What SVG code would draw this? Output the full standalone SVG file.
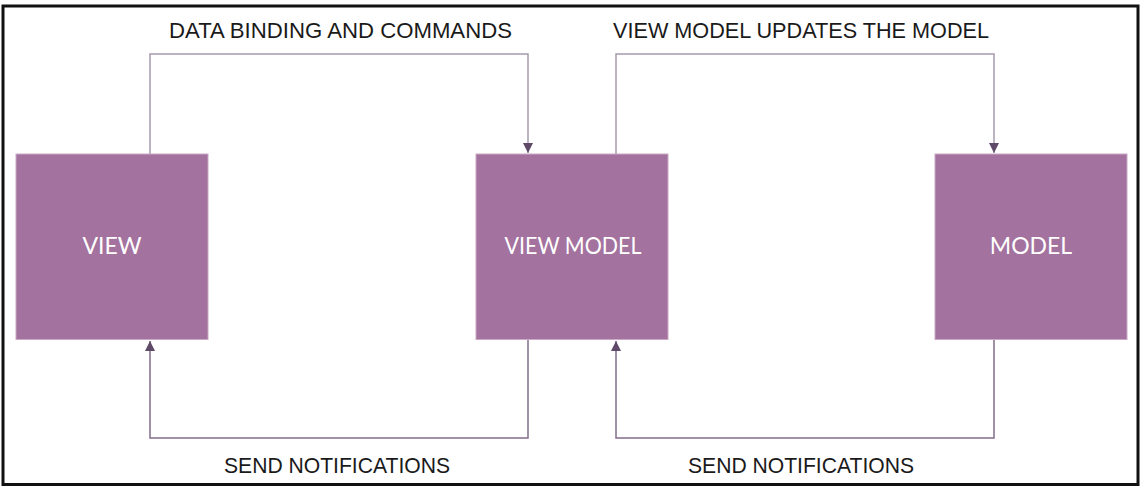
<svg xmlns="http://www.w3.org/2000/svg" width="1141" height="487" viewBox="0 0 1141 487">
<style>
.node rect{fill:#A3729E;stroke:#C9A9C5;stroke-width:1}
.node text{fill:#FFFFFF;font-family:Lato,"Open Sans","Liberation Sans",sans-serif;font-weight:400;font-size:23px;text-anchor:middle}
.lbl{fill:#1A1A1A;font-family:"Liberation Sans Narrow","Liberation Sans",Arial,sans-serif;font-size:22.5px}
.top{fill:none;stroke:#A899AE;stroke-width:1.5}
.bot{fill:none;stroke:#836D8A;stroke-width:1.5}
</style>
<defs>
<marker id="arr" viewBox="0 0 10 10" refX="10" refY="5" markerWidth="10" markerHeight="10" markerUnits="userSpaceOnUse" orient="auto">
<path d="M0,0 L10,5 L0,10 Z" fill="#5E4A68"/>
</marker>
</defs>
<rect x="3" y="6" width="1135" height="478.5" fill="#FFFFFF" stroke="#111111" stroke-width="3"/>
<g id="connectors">
<path class="top" d="M150,154 V54 H528 V153" marker-end="url(#arr)"/>
<path class="top" d="M616,154 V54 H994 V153" marker-end="url(#arr)"/>
<path class="bot" d="M528,340 V438 H150 V341" marker-end="url(#arr)"/>
<path class="bot" d="M994,340 V438 H616 V341" marker-end="url(#arr)"/>
<text class="lbl" x="169" y="38" textLength="343" lengthAdjust="spacingAndGlyphs">DATA BINDING AND COMMANDS</text>
<text class="lbl" x="613" y="38" textLength="376" lengthAdjust="spacingAndGlyphs">VIEW MODEL UPDATES THE MODEL</text>
<text class="lbl" x="224" y="473" textLength="226" lengthAdjust="spacingAndGlyphs">SEND NOTIFICATIONS</text>
<text class="lbl" x="688" y="473" textLength="226" lengthAdjust="spacingAndGlyphs">SEND NOTIFICATIONS</text>
</g>
<g id="view" class="node">
<rect x="16" y="154" width="192" height="185.5"/>
<text x="112" y="254">VIEW</text>
</g>
<g id="viewmodel" class="node">
<rect x="476" y="154" width="192" height="185.5"/>
<text x="573" y="254" textLength="137" lengthAdjust="spacingAndGlyphs">VIEW MODEL</text>
</g>
<g id="model" class="node">
<rect x="935" y="154" width="192" height="185.5"/>
<text x="1031" y="254">MODEL</text>
</g>
</svg>
